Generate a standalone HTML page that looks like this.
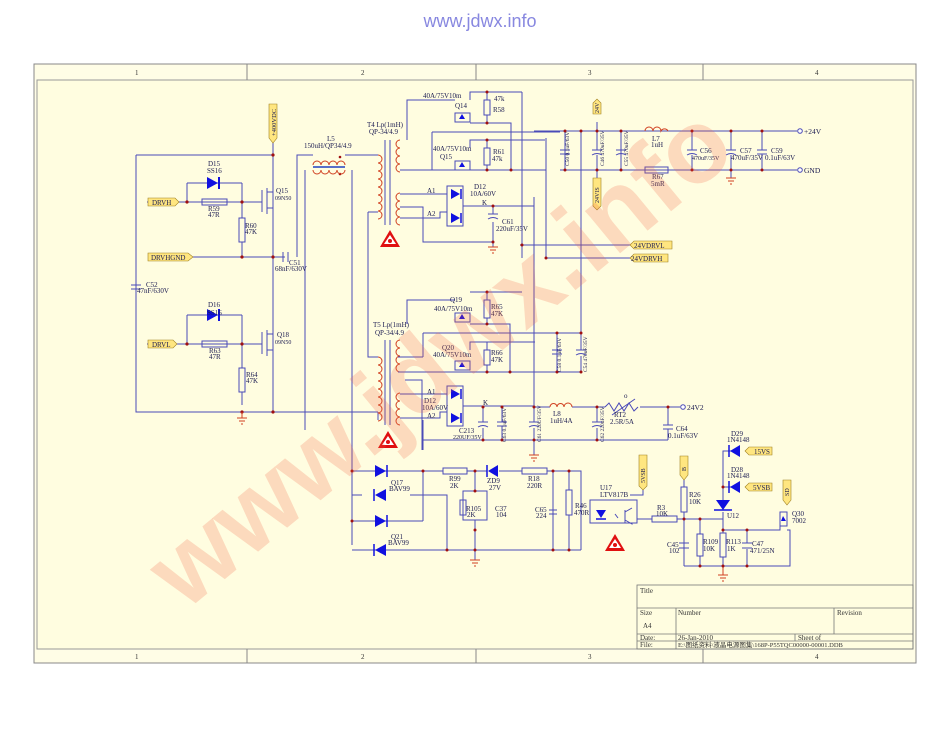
<!DOCTYPE html>
<html><head><meta charset="utf-8"><style>
html,body{margin:0;padding:0;background:#fff;}
svg{display:block;}
text{font-family:"Liberation Serif","Noto Serif CJK SC",serif;font-size:7px;fill:#1a1a50;}
.w{stroke:#4a4ab8;stroke-width:1;fill:none;}
.c{stroke:#d04020;stroke-width:1;fill:none;}
.n{fill:#a01010;}
.d{fill:#1010e0;}
.lab{fill:#ffe680;stroke:#a08020;stroke-width:0.6;}
.lt{font-family:"Liberation Serif",serif;font-size:7px;fill:#333;}
.v{font-size:5.5px;}
</style></head><body>
<svg width="950" height="735" viewBox="0 0 950 735" xmlns="http://www.w3.org/2000/svg">
<rect width="950" height="735" fill="#fff"/>
<text x="480" y="27" text-anchor="middle" style="font-family:'Liberation Sans',sans-serif;font-size:18px;fill:#8888e0">www.jdwx.info</text>
<rect x="34" y="64" width="882" height="599" fill="#fffde6" stroke="#888" stroke-width="1"/>
<rect x="37" y="80" width="876" height="569" fill="#fffde0" stroke="#999" stroke-width="1"/>
<g stroke="#888" stroke-width="1"><line x1="247" y1="64" x2="247" y2="80"/><line x1="476" y1="64" x2="476" y2="80"/><line x1="703" y1="64" x2="703" y2="80"/>
<line x1="247" y1="649" x2="247" y2="663"/><line x1="476" y1="649" x2="476" y2="663"/><line x1="703" y1="649" x2="703" y2="663"/></g>
<g class="lt"><text x="135" y="75" class="lt">1</text><text x="361" y="75" class="lt">2</text><text x="588" y="75" class="lt">3</text><text x="815" y="75" class="lt">4</text>
<text x="135" y="659" class="lt">1</text><text x="361" y="659" class="lt">2</text><text x="588" y="659" class="lt">3</text><text x="815" y="659" class="lt">4</text></g>
<g stroke="#777" stroke-width="0.8" fill="none"><rect x="637" y="585" width="276" height="64"/>
<line x1="637" y1="608" x2="913" y2="608"/><line x1="637" y1="634" x2="913" y2="634"/><line x1="637" y1="641" x2="913" y2="641"/>
<line x1="676" y1="608" x2="676" y2="649"/><line x1="834" y1="608" x2="834" y2="634"/><line x1="795" y1="634" x2="795" y2="641"/></g>
<text x="640" y="593" class="lt">Title</text><text x="640" y="615" class="lt">Size</text><text x="678" y="615" class="lt">Number</text><text x="837" y="615" class="lt">Revision</text>
<text x="643" y="628" class="lt">A4</text><text x="640" y="640" class="lt">Date:</text><text x="678" y="640" class="lt">26-Jan-2010</text><text x="798" y="640" class="lt">Sheet   of</text>
<text x="640" y="647" class="lt">File:</text><text x="678" y="647" class="lt" style="font-size:6.5px">E:\图纸资料\液晶电源图集\168P-P55TQC00000-00001.DDB</text>

<g class="w">
<path d="M273 142V412M136 155H273M136 155V412H378M187 183H242M187 183V202H242V183M147 202H202M227 202H242M242 202V218M242 242V257M193 257H285M297 257V155H313M345 155H378M305 170V430M352 170V545"/>
<path d="M187 315H242M187 315V344H242V315M147 344H202M227 344H242M242 344V368M242 392V405"/>
<path d="M242 344H262M242 202H262M262 190V212M262 332V354M267 188V214M267 330V356M267 192H273M267 208H273M267 334H273M267 350H273"/>
<path d="M131 285H141M131 289H141M136 282V285M136 289V292"/>
<path d="M283 252V262M288 252V262"/>
<path d="M368 212H378M368 212V357H378M378 420V412"/>
<path d="M385 140V225M390 140V225M385 340V425M390 340V425"/>
</g>
<g class="w"><rect x="202" y="199" width="25" height="6"/><rect x="202" y="341" width="25" height="6"/><rect x="239" y="218" width="6" height="24"/><rect x="239" y="368" width="6" height="24"/></g>
<polygon class="d" points="207,177 207,189 218,183"/><line x1="219" y1="177" x2="219" y2="189" stroke="#1010e0" stroke-width="2"/>
<polygon class="d" points="207,309 207,321 218,315"/><line x1="219" y1="309" x2="219" y2="321" stroke="#1010e0" stroke-width="2"/>
<g class="n"><circle cx="273" cy="155" r="1.6"/><circle cx="187" cy="202" r="1.6"/><circle cx="242" cy="202" r="1.6"/><circle cx="242" cy="257" r="1.6"/><circle cx="273" cy="257" r="1.6"/><circle cx="187" cy="344" r="1.6"/><circle cx="242" cy="344" r="1.6"/><circle cx="242" cy="412" r="1.6"/><circle cx="273" cy="412" r="1.6"/><circle cx="340" cy="157" r="1.3"/><circle cx="340" cy="174" r="1.3"/></g>
<path class="c" d="M313 165a4 4 0 0 1 8 0a4 4 0 0 1 8 0a4 4 0 0 1 8 0a4 4 0 0 1 8 0M313 170a4 4 0 0 0 8 0a4 4 0 0 0 8 0a4 4 0 0 0 8 0a4 4 0 0 0 8 0"/>
<line x1="313" y1="167" x2="345" y2="167" stroke="#2040c0" stroke-width="1.5"/>
<path class="c" d="M378 155a4 4 0 0 1 0 8a4 4 0 0 1 0 8a4 4 0 0 1 0 8a4 4 0 0 1 0 8a4 4 0 0 1 0 8a4 4 0 0 1 0 8a4 4 0 0 1 0 8a4 4 0 0 1 0 8"/>
<path class="c" d="M378 357a4 4 0 0 1 0 8a4 4 0 0 1 0 8a4 4 0 0 1 0 8a4 4 0 0 1 0 8a4 4 0 0 1 0 8a4 4 0 0 1 0 8a4 4 0 0 1 0 8a4 4 0 0 1 0 8"/>
<path class="c" d="M400 140a4 4 0 0 0 0 8a4 4 0 0 0 0 8a4 4 0 0 0 0 8a4 4 0 0 0 0 8M400 193a4 4 0 0 0 0 8a4 4 0 0 0 0 8a4 4 0 0 0 0 8a4 4 0 0 0 0 8"/>
<path class="c" d="M400 340a4 4 0 0 0 0 8a4 4 0 0 0 0 8a4 4 0 0 0 0 8a4 4 0 0 0 0 8M400 393a4 4 0 0 0 0 8a4 4 0 0 0 0 8a4 4 0 0 0 0 8a4 4 0 0 0 0 8"/>
<polygon class="lab" points="148,198 175,198 179,202 175,206 148,206"/><text x="152" y="205">DRVH</text>
<polygon class="lab" points="148,253 188,253 193,257 188,261 148,261"/><text x="151" y="260">DRVHGND</text>
<polygon class="lab" points="148,340 173,340 177,344 173,348 148,348"/><text x="152" y="347">DRVL</text>
<polygon class="lab" points="269,104 277,104 277,138 273,143 269,138"/><text x="276" y="136" transform="rotate(-90 276 136)" style="font-size:6.5px">+400VDC</text>
<text x="208" y="166">D15</text><text x="207" y="173">SS16</text><text x="208" y="211">R59</text><text x="208" y="217">47R</text>
<text x="245" y="228">R60</text><text x="245" y="234">47K</text><text x="276" y="193">Q15</text><text x="275" y="200" style="font-size:6px">09N50</text>
<text x="208" y="307">D16</text><text x="207" y="315">SS16</text><text x="209" y="353">R63</text><text x="209" y="359">47R</text>
<text x="246" y="377">R64</text><text x="246" y="383">47K</text><text x="277" y="337">Q18</text><text x="275" y="344" style="font-size:6px">09N50</text>
<text x="289" y="265">C51</text><text x="275" y="271">68nF/630V</text><text x="146" y="287">C52</text><text x="137" y="293">47nF/630V</text>
<text x="327" y="141">L5</text><text x="304" y="148">150uH/QP34/4.9</text>
<text x="367" y="127">T4 Lp(1mH)</text><text x="369" y="134">QP-34/4.9</text>
<text x="373" y="327">T5 Lp(1mH)</text><text x="375" y="335">QP-34/4.9</text>
<g><polygon points="390,230 380,247 400,247" fill="#e01010"/><polygon points="390,235 384,244 396,244" fill="#fff"/><circle cx="390" cy="241" r="2" fill="#e01010"/>
<polygon points="388,431 378,448 398,448" fill="#e01010"/><polygon points="388,436 382,445 394,445" fill="#fff"/><circle cx="388" cy="442" r="2" fill="#e01010"/>
<polygon points="615,534 605,551 625,551" fill="#e01010"/><polygon points="615,539 609,548 621,548" fill="#fff"/><circle cx="615" cy="545" r="2" fill="#e01010"/></g>

<g class="w">
<path d="M407 140V100H455M470 100V92H522M487 92V100M487 115V123M470 123H511V170M400 170H546M432 132H560M432 132V170M470 148V140H545M487 140V148M487 165V170"/>
<path d="M522 92V258"/>
<path d="M400 194H447M400 218H440V212H447M463 206H534M400 207H423V242H493M493 206V214M493 222V247M447 186H463V226H447Z"/>
<path d="M407 324V300H455M470 292H522M487 292V300M487 318V324M470 324H510V372M398 372H581M423 333H581M423 333V357M398 357H423M470 350V342H535M487 342V350M487 365V372"/>
<path d="M400 394H447M400 418H440V412H447M447 386H463V426H447ZM463 406H534M405 380H422V450M423 420V450"/>
<path d="M546 138V258M534 197V407M534 131H797M560 170H797M565 131V170M597 122V131M597 170V178M581 131V333M621 131V170"/>
<path d="M520 245H630M546 258H630"/>
<path d="M557 333V372M581 333V350M581 356V372"/>
</g>
<g class="w"><rect x="484" y="100" width="6" height="15"/><rect x="484" y="148" width="6" height="17"/><rect x="484" y="300" width="6" height="18"/><rect x="484" y="350" width="6" height="15"/></g>
<g class="w"><rect x="455" y="113" width="15" height="9"/><rect x="455" y="161" width="15" height="9"/><rect x="455" y="313" width="15" height="9"/><rect x="455" y="361" width="15" height="9"/></g>
<g class="d"><polygon points="462,114 459,119 465,119"/><polygon points="462,162 459,167 465,167"/><polygon points="462,314 459,319 465,319"/><polygon points="462,362 459,367 465,367"/></g>
<g class="d"><polygon points="451,189 451,199 460,194"/><polygon points="451,213 451,223 460,218"/><polygon points="451,389 451,399 460,394"/><polygon points="451,413 451,423 460,418"/></g>
<g stroke="#1010e0" stroke-width="1.5"><line x1="461" y1="189" x2="461" y2="199"/><line x1="461" y1="213" x2="461" y2="223"/><line x1="461" y1="389" x2="461" y2="399"/><line x1="461" y1="413" x2="461" y2="423"/></g>
<g class="w"><path d="M488 214H498M488 219Q493 216 498 219"/>
<path d="M560 150H570M560 154H570M592 150H602M592 155Q597 152 602 155M616 150H626M616 155Q621 152 626 155M597 131V150M597 155V170M621 131V150M621 155V170"/>
<path d="M552 350H562M552 354H562M576 350H586M576 355Q581 352 586 355"/>
<path d="M687 150H697M687 155Q692 152 697 155M726 150H736M726 155Q731 152 736 155M757 150H767M757 154H767M692 131V150M692 155V170M731 131V150M731 155V178M762 131V150M762 154V170"/>
</g>
<g class="c"><path d="M488 247H498M490 250H496M492 253H494M726 178H736M728 181H734M730 184H732M237 418H247M239 421H245M241 424H243M242 412V418"/></g>
<g class="n"><circle cx="487" cy="92" r="1.5"/><circle cx="487" cy="123" r="1.5"/><circle cx="487" cy="140" r="1.5"/><circle cx="487" cy="170" r="1.5"/><circle cx="511" cy="170" r="1.5"/><circle cx="493" cy="206" r="1.5"/><circle cx="493" cy="242" r="1.5"/><circle cx="522" cy="245" r="1.5"/><circle cx="546" cy="258" r="1.5"/>
<circle cx="565" cy="131" r="1.5"/><circle cx="581" cy="131" r="1.5"/><circle cx="597" cy="131" r="1.5"/><circle cx="621" cy="131" r="1.5"/><circle cx="565" cy="170" r="1.5"/><circle cx="597" cy="170" r="1.5"/><circle cx="621" cy="170" r="1.5"/>
<circle cx="692" cy="131" r="1.5"/><circle cx="731" cy="131" r="1.5"/><circle cx="762" cy="131" r="1.5"/><circle cx="692" cy="170" r="1.5"/><circle cx="731" cy="170" r="1.5"/><circle cx="762" cy="170" r="1.5"/>
<circle cx="487" cy="292" r="1.5"/><circle cx="487" cy="324" r="1.5"/><circle cx="487" cy="372" r="1.5"/><circle cx="510" cy="372" r="1.5"/><circle cx="557" cy="333" r="1.5"/><circle cx="581" cy="333" r="1.5"/><circle cx="557" cy="372" r="1.5"/><circle cx="581" cy="372" r="1.5"/></g>
<path class="c" d="M645 131a4 4 0 0 1 8 0a4 4 0 0 1 8 0a4 4 0 0 1 7 0"/>
<rect class="w" x="645" y="167" width="23" height="6"/>
<circle cx="800" cy="131" r="2.3" fill="#fff" stroke="#4a4ab8"/><circle cx="800" cy="170" r="2.3" fill="#fff" stroke="#4a4ab8"/>
<text x="804" y="134" style="font-size:7.5px">+24V</text><text x="804" y="173" style="font-size:7.5px">GND</text>
<text x="652" y="141">L7</text><text x="651" y="147">1uH</text><text x="652" y="179">R67</text><text x="651" y="186">5mR</text>
<text x="700" y="153">C56</text><text x="692" y="160" style="font-size:6px">470uF/35V</text><text x="740" y="153">C57</text><text x="731" y="160">470uF/35V</text><text x="771" y="153">C59</text><text x="765" y="160">0.1uF/63V</text>
<polygon class="lab" points="593,114 593,103 597,99 601,103 601,114"/><text x="599" y="113" transform="rotate(-90 599 113)" style="font-size:6px">24V</text>
<polygon class="lab" points="593,178 601,178 601,206 597,210 593,206"/><text x="599" y="203" transform="rotate(-90 599 203)" style="font-size:6px">24VIS</text>
<polygon class="lab" points="630,245 634,241 672,241 672,249 634,249"/><text x="634" y="248">24VDRVL</text>
<polygon class="lab" points="630,258 634,254 668,254 668,262 634,262"/><text x="631" y="261">24VDRVH</text>
<g class="v"><text x="569" y="166" transform="rotate(-90 569 166)" class="v">C50 0.1uF/63V</text><text x="604" y="166" transform="rotate(-90 604 166)" class="v">C46 470uF/35V</text><text x="628" y="166" transform="rotate(-90 628 166)" class="v">C55 470uF/35V</text>
<text x="561" y="372" transform="rotate(-90 561 372)" class="v">C58 0.1uF/63V</text><text x="587" y="372" transform="rotate(-90 587 372)" class="v">C54 470uF/35V</text></g>
<text x="423" y="98">40A/75V10m</text><text x="455" y="108">Q14</text><text x="494" y="101">47k</text><text x="493" y="112">R58</text>
<text x="433" y="151">40A/75V10m</text><text x="440" y="159">Q15</text><text x="493" y="154">R61</text><text x="492" y="161">47k</text>
<text x="427" y="193">A1</text><text x="427" y="216">A2</text><text x="474" y="189">D12</text><text x="470" y="196">10A/60V</text><text x="482" y="205">K</text><text x="502" y="224">C61</text><text x="496" y="231">220uF/35V</text>
<text x="450" y="302">Q19</text><text x="434" y="311">40A/75V10m</text><text x="491" y="309">R65</text><text x="491" y="316">47K</text>
<text x="442" y="350">Q20</text><text x="433" y="357">40A/75V10m</text><text x="491" y="355">R66</text><text x="491" y="362">47K</text>
<text x="427" y="394">A1</text><text x="427" y="418">A2</text><text x="424" y="403">D12</text><text x="422" y="410">10A/60V</text><text x="483" y="405">K</text>

<g class="w"><path d="M534 407H550M572 407H605M640 407H680M483 407V422M483 428V440M502 407V422M502 426V440M534 407V422M534 428V440M597 407V422M597 428V440M668 407V425M668 429V440M423 440H668M478 422H488M478 427Q483 424 488 427M497 422H507M497 426H507M529 422H539M529 427Q534 424 539 427M592 422H602M592 427Q597 424 602 427M663 425H673M663 429H673M534 440V455"/></g>
<path class="c" d="M550 407a3.5 3.5 0 0 1 7 0a3.5 3.5 0 0 1 7 0a3.5 3.5 0 0 1 8 0"/>
<path class="w" d="M605 407l4-4l5 8l5-8l5 8l5-8l5 8l4-4M612 415L635 399"/>
<g class="c"><path d="M529 455H539M531 458H537M533 461H535"/></g>
<circle cx="683" cy="407" r="2.3" fill="#fff" stroke="#4a4ab8"/><text x="687" y="410" style="font-size:7.5px">24V2</text>
<g class="n"><circle cx="483" cy="407" r="1.5"/><circle cx="502" cy="407" r="1.5"/><circle cx="534" cy="407" r="1.5"/><circle cx="597" cy="407" r="1.5"/><circle cx="668" cy="407" r="1.5"/><circle cx="483" cy="440" r="1.5"/><circle cx="502" cy="440" r="1.5"/><circle cx="534" cy="440" r="1.5"/><circle cx="597" cy="440" r="1.5"/></g>
<text x="553" y="416">L8</text><text x="550" y="423">1uH/4A</text><text x="614" y="417">RT2</text><text x="610" y="424">2.5R/5A</text><text x="624" y="398">o</text><text x="676" y="431">C64</text><text x="668" y="438">0.1uF/63V</text>
<text x="459" y="433">C213</text><text x="453" y="439" style="font-size:6px">220UF/35V</text>
<g class="v"><text x="506" y="442" transform="rotate(-90 506 442)" class="v">C63 0.1uF/63V</text><text x="541" y="442" transform="rotate(-90 541 442)" class="v">C61 220UF/35V</text><text x="604" y="442" transform="rotate(-90 604 442)" class="v">C62 220uF/35V</text></g>

<g class="w">
<path d="M352 471H423M352 521H423M352 550H581M410 495H447V550M423 471V521M423 471H443M467 471H487M499 471H522M547 471H581V550M475 471V491M463 491H487V520H463ZM475 520V560M553 471V550M569 471V490M569 515V550M352 495H362M352 495V471"/>
<path d="M590 500H637V523H590Z M637 519H652M677 519H723M684 480V487M684 512V566M700 519V534M700 556V566M684 519V543M684 549V566M723 512V533M723 557V566M747 530V543M747 549V566M723 530H780V512H787M787 500V480M723 500V451H735M723 487H735M684 566H790V530H787M643 490V495H630"/>
<path d="M549 510H557M549 514H557M679 543H689M679 548H689M742 543H752M742 548H752"/>
<path d="M615 514l3 4M625 510V523M625 512l7-4M625 520l7 4V523H637"/>
</g>
<g class="w"><rect x="443" y="468" width="24" height="6"/><rect x="522" y="468" width="25" height="6"/><rect x="460" y="500" width="6" height="15"/><rect x="566" y="490" width="6" height="25"/><rect x="652" y="516" width="25" height="6"/><rect x="681" y="487" width="6" height="25"/><rect x="697" y="534" width="6" height="22"/><rect x="720" y="533" width="6" height="24"/></g>
<g class="d"><polygon points="375,465 375,477 386,471"/><polygon points="386,489 386,501 375,495"/><polygon points="375,515 375,527 386,521"/><polygon points="386,544 386,556 375,550"/>
<polygon points="498,465 498,477 488,471"/><polygon points="596,510 606,510 601,518"/><polygon points="740,445 740,457 730,451"/><polygon points="740,481 740,493 730,487"/><polygon points="716,500 730,500 723,510"/></g>
<g stroke="#1010e0" stroke-width="1.5"><line x1="387" y1="465" x2="387" y2="477"/><line x1="374" y1="489" x2="374" y2="501"/><line x1="387" y1="515" x2="387" y2="527"/><line x1="374" y1="544" x2="374" y2="556"/><line x1="487" y1="465" x2="487" y2="477"/><line x1="596" y1="519" x2="606" y2="519"/><line x1="729" y1="445" x2="729" y2="457"/><line x1="729" y1="481" x2="729" y2="493"/><line x1="714" y1="510" x2="732" y2="510"/></g>
<g class="w"><rect x="780" y="512" width="7" height="14"/></g><polygon class="d" points="783,516 781,521 786,521"/>
<g class="c"><path d="M470 560H480M472 563H478M474 566H476M718 575H728M720 578H726M722 581H724M723 566V575"/></g>
<g class="n"><circle cx="352" cy="471" r="1.5"/><circle cx="352" cy="521" r="1.5"/><circle cx="423" cy="471" r="1.5"/><circle cx="475" cy="471" r="1.5"/><circle cx="553" cy="471" r="1.5"/><circle cx="569" cy="471" r="1.5"/><circle cx="475" cy="491" r="1.5"/><circle cx="475" cy="530" r="1.5"/><circle cx="447" cy="550" r="1.5"/><circle cx="475" cy="550" r="1.5"/><circle cx="553" cy="550" r="1.5"/><circle cx="569" cy="550" r="1.5"/><circle cx="684" cy="519" r="1.5"/><circle cx="700" cy="519" r="1.5"/><circle cx="723" cy="487" r="1.5"/><circle cx="723" cy="530" r="1.5"/><circle cx="747" cy="530" r="1.5"/><circle cx="700" cy="566" r="1.5"/><circle cx="723" cy="566" r="1.5"/><circle cx="747" cy="566" r="1.5"/></g>
<polygon class="lab" points="639,455 647,455 647,486 643,490 639,486"/><text x="645" y="483" transform="rotate(-90 645 483)" style="font-size:6px">5VSB</text>
<polygon class="lab" points="680,456 688,456 688,475 684,480 680,475"/><text x="686" y="471" transform="rotate(-90 686 471)" style="font-size:6px">B</text>
<polygon class="lab" points="783,480 791,480 791,500 787,505 783,500"/><text x="789" y="496" transform="rotate(-90 789 496)" style="font-size:6px">SD</text>
<polygon class="lab" points="745,451 749,447 772,447 772,455 749,455"/><text x="754" y="454">15VS</text>
<polygon class="lab" points="745,487 749,483 772,483 772,491 749,491"/><text x="753" y="490">5VSB</text>
<text x="391" y="485">Q17</text><text x="389" y="491">BAV99</text><text x="391" y="539">Q21</text><text x="388" y="545">BAV99</text>
<text x="449" y="481">R99</text><text x="450" y="488">2K</text><text x="487" y="483">ZD9</text><text x="489" y="490">27V</text><text x="528" y="481">R18</text><text x="527" y="488">220R</text>
<text x="466" y="511">R105</text><text x="467" y="517">2K</text><text x="495" y="511">C37</text><text x="496" y="517">104</text>
<text x="535" y="512">C65</text><text x="536" y="518">224</text><text x="575" y="508">R46</text><text x="574" y="515">470R</text>
<text x="600" y="490">U17</text><text x="600" y="497">LTV817B</text><text x="657" y="510">R3</text><text x="656" y="516">10K</text>
<text x="689" y="497">R26</text><text x="689" y="504">10K</text><text x="667" y="547">C45</text><text x="669" y="553">102</text><text x="703" y="544">R109</text><text x="703" y="551">10K</text>
<text x="726" y="544">R113</text><text x="727" y="551">1K</text><text x="752" y="546">C47</text><text x="750" y="553">471/25N</text><text x="727" y="518">U12</text>
<text x="731" y="436">D29</text><text x="727" y="442">1N4148</text><text x="731" y="472">D28</text><text x="727" y="478">1N4148</text><text x="792" y="516">Q30</text><text x="792" y="523">7002</text>

<text x="0" y="0" transform="translate(185,612) rotate(-39.5)" style="font-family:'Liberation Sans',sans-serif;font-size:104px;font-weight:bold;fill:#f06040;fill-opacity:0.22">www.jdwx.info</text>
</svg>
</body></html>
